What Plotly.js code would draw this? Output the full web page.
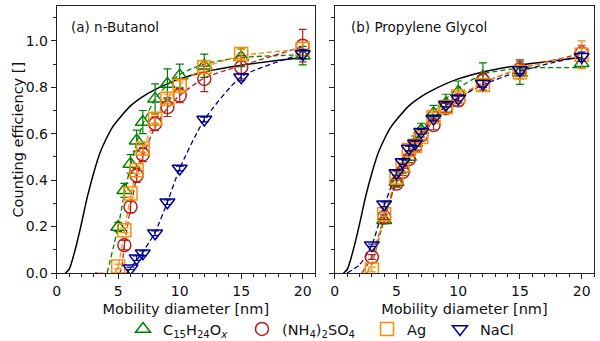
<!DOCTYPE html>
<html>
<head>
<meta charset="utf-8">
<script src="https://cdn.plot.ly/plotly-3.0.1.min.js"></script>
<style>
  html, body { margin: 0; padding: 0; background: white; }
  #chart { width: 600px; height: 341px; }
</style>
</head>
<body>
<div id="chart"></div>
<script>
// Series colours (matplotlib named colours)
const C_GREEN = "#008000";
const C_RED = "#b22222";
const C_ORANGE = "#ff8c00";
const C_BLUE = "#00008b";

// Theory curve (same in both panels)
const theoryX = [0.7, 1.0, 1.5, 2.0, 2.5, 3.0, 3.5, 4.0, 4.5, 5, 6, 7, 8, 10, 12, 15, 20];
const theoryY = [0, 0.015, 0.1, 0.21, 0.33, 0.43, 0.515, 0.575, 0.625, 0.66, 0.72, 0.76, 0.79, 0.836, 0.866, 0.895, 0.928];

// ---- (a) n-Butanol ----
const aGreenX = [5, 5.5, 6, 6.5, 7, 8, 9, 10, 12, 15, 20];
const aGreenY = [0.198, 0.356, 0.47, 0.57, 0.65, 0.75, 0.814, 0.85, 0.893, 0.929, 0.936];
const aGreenErr = [0.02, 0.03, 0.04, 0.045, 0.05, 0.065, 0.065, 0.05, 0.05, 0.04, 0.04];

const aRedX = [5.5, 6, 6.5, 7, 8, 9, 10, 12, 15, 20];
const aRedY = [0.12, 0.285, 0.42, 0.51, 0.643, 0.714, 0.764, 0.836, 0.886, 0.979];
const aRedErr = [0.02, 0.025, 0.03, 0.03, 0.03, 0.04, 0.03, 0.055, 0.05, 0.07];

const aOrangeX = [5, 5.5, 6, 6.5, 7, 8, 9, 10, 12, 15, 20];
const aOrangeY = [0.028, 0.184, 0.342, 0.443, 0.536, 0.664, 0.75, 0.807, 0.886, 0.943, 0.965];
const aOrangeErr = [0.01, 0.01, 0.015, 0.015, 0.015, 0.02, 0.02, 0.02, 0.02, 0.02, 0.03];

const aBlueX = [6, 6.5, 7, 8, 9, 10, 12, 15, 20];
const aBlueY = [0.02, 0.064, 0.085, 0.171, 0.305, 0.45, 0.661, 0.843, 0.943];
const aBlueErr = [0.005, 0.01, 0.01, 0.01, 0.01, 0.01, 0.01, 0.015, 0.02];

// fitted (dashed) curves, panel a
const aGreenFitX = [4.1, 5, 5.5, 6, 6.5, 7, 8, 9, 10, 12, 15, 20];
const aGreenFitY = [0, 0.2, 0.34, 0.46, 0.56, 0.64, 0.75, 0.81, 0.855, 0.9, 0.928, 0.94];
const aRedFitX = [3.1, 5.1, 5.5, 6, 6.5, 7, 8, 9, 10, 12, 15, 20];
const aRedFitY = [0, 0, 0.12, 0.28, 0.41, 0.5, 0.63, 0.71, 0.765, 0.84, 0.893, 0.975];
const aOrangeFitX = [3.5, 4.7, 5, 5.5, 6, 6.5, 7, 8, 9, 10, 12, 15, 20];
const aOrangeFitY = [0, 0, 0.03, 0.18, 0.33, 0.44, 0.53, 0.66, 0.75, 0.81, 0.885, 0.935, 0.965];
const aBlueFitX = [5.7, 6, 6.5, 7, 8, 9, 10, 12, 15, 20];
const aBlueFitY = [0, 0.02, 0.055, 0.09, 0.175, 0.305, 0.45, 0.66, 0.845, 0.945];

// ---- (b) Propylene Glycol ----
const bGreenX = [4, 5, 5.5, 6, 6.5, 7, 8, 9, 10, 12, 15, 20];
const bGreenY = [0.227, 0.392, 0.45, 0.5, 0.56, 0.615, 0.687, 0.73, 0.78, 0.845, 0.862, 0.903];
const bGreenErr = [0.015, 0.02, 0.02, 0.025, 0.03, 0.03, 0.035, 0.04, 0.047, 0.06, 0.05, 0.02];

const bRedX = [3, 4, 5, 5.5, 6, 6.5, 7, 8, 9, 10, 12, 15, 20];
const bRedY = [0.069, 0.241, 0.385, 0.435, 0.49, 0.545, 0.593, 0.637, 0.71, 0.744, 0.83, 0.878, 0.946];
const bRedErr = [0.01, 0.01, 0.015, 0.015, 0.015, 0.02, 0.02, 0.02, 0.02, 0.025, 0.03, 0.04, 0.035];

const bOrangeX = [3, 4, 5, 5.5, 6, 6.5, 7, 8, 9, 10, 12, 15, 20];
const bOrangeY = [0.015, 0.253, 0.411, 0.464, 0.53, 0.548, 0.586, 0.672, 0.715, 0.76, 0.81, 0.865, 0.94];
const bOrangeErr = [0.01, 0.01, 0.01, 0.01, 0.015, 0.015, 0.015, 0.02, 0.02, 0.02, 0.02, 0.03, 0.06];

const bBlueX = [3, 4, 5, 5.5, 6, 6.5, 7, 8, 9, 10, 12, 15, 20];
const bBlueY = [0.12, 0.296, 0.431, 0.478, 0.536, 0.558, 0.608, 0.665, 0.725, 0.752, 0.815, 0.874, 0.931];
const bBlueErr = [0.005, 0.01, 0.01, 0.01, 0.01, 0.01, 0.01, 0.01, 0.01, 0.01, 0.015, 0.015, 0.02];

// fitted (dashed) curves, panel b
const bGreenFitX = [2.6, 3, 4, 5, 6, 7, 8, 9, 10, 12, 15, 20];
const bGreenFitY = [0, 0.04, 0.23, 0.4, 0.52, 0.61, 0.69, 0.75, 0.795, 0.857, 0.882, 0.884];
const bRedFitX = [2.2, 3, 4, 5, 6, 7, 8, 9, 10, 12, 15, 20];
const bRedFitY = [0, 0.07, 0.24, 0.39, 0.5, 0.59, 0.655, 0.71, 0.75, 0.818, 0.88, 0.945];
const bOrangeFitX = [2.6, 3, 4, 5, 6, 7, 8, 9, 10, 12, 15, 20];
const bOrangeFitY = [0, 0.04, 0.25, 0.41, 0.52, 0.6, 0.67, 0.72, 0.76, 0.82, 0.88, 0.94];
const bBlueFitX = [1.0, 2, 3, 4, 5, 6, 7, 8, 9, 10, 12, 15, 20];
const bBlueFitY = [0, 0.035, 0.12, 0.29, 0.43, 0.53, 0.605, 0.665, 0.72, 0.755, 0.81, 0.87, 0.935];

// legend names
const NAMES = [
  "C<sub>15</sub>H<sub>24</sub>O<sub><i>x</i></sub>",
  "(NH<sub>4</sub>)<sub>2</sub>SO<sub>4</sub>",
  "Ag",
  "NaCl",
];
const SYMBOLS = ["triangle-up-open", "circle-open", "square-open", "triangle-down-open"];
const COLORS = [C_GREEN, C_RED, C_ORANGE, C_BLUE];
const LEGEND_IDS = ["legend", "legend2", "legend3", "legend4"];
// legend box x (paper), one small legend per entry so the spacing matches
const LEGEND_X = [0.205, 0.4033, 0.6117, 0.7333];

const FONT = "DejaVu Sans, sans-serif";

function fitTrace(x, y, color, xa, ya) {
  return {
    x, y, type: "scatter", mode: "lines",
    line: { color, width: 1.3, dash: "5px,3px", shape: "spline", smoothing: 0.6 },
    xaxis: xa, yaxis: ya, showlegend: false, hoverinfo: "skip",
  };
}

function theoryTrace(xa, ya) {
  return {
    x: theoryX, y: theoryY, type: "scatter", mode: "lines",
    line: { color: "black", width: 1.5, shape: "spline", smoothing: 0.8 },
    xaxis: xa, yaxis: ya, showlegend: false, hoverinfo: "skip",
  };
}

function pointTrace(x, y, err, k, xa, ya, legend) {
  return {
    x, y, type: "scatter", mode: "markers",
    name: NAMES[k],
    legend: LEGEND_IDS[k],
    marker: { symbol: SYMBOLS[k], size: 13, color: COLORS[k], line: { width: 1.5, color: COLORS[k] } },
    error_y: { type: "data", array: err, color: COLORS[k], thickness: 1.2, width: 4 },
    xaxis: xa, yaxis: ya, showlegend: legend,
  };
}

const traces = [
  theoryTrace("x", "y"),
  fitTrace(aGreenFitX, aGreenFitY, C_GREEN, "x", "y"),
  fitTrace(aRedFitX, aRedFitY, C_RED, "x", "y"),
  fitTrace(aOrangeFitX, aOrangeFitY, C_ORANGE, "x", "y"),
  fitTrace(aBlueFitX, aBlueFitY, C_BLUE, "x", "y"),
  pointTrace(aGreenX, aGreenY, aGreenErr, 0, "x", "y", true),
  pointTrace(aRedX, aRedY, aRedErr, 1, "x", "y", true),
  pointTrace(aOrangeX, aOrangeY, aOrangeErr, 2, "x", "y", true),
  pointTrace(aBlueX, aBlueY, aBlueErr, 3, "x", "y", true),

  theoryTrace("x2", "y2"),
  fitTrace(bGreenFitX, bGreenFitY, C_GREEN, "x2", "y2"),
  fitTrace(bRedFitX, bRedFitY, C_RED, "x2", "y2"),
  fitTrace(bOrangeFitX, bOrangeFitY, C_ORANGE, "x2", "y2"),
  fitTrace(bBlueFitX, bBlueFitY, C_BLUE, "x2", "y2"),
  pointTrace(bGreenX, bGreenY, bGreenErr, 0, "x2", "y2", false),
  pointTrace(bRedX, bRedY, bRedErr, 1, "x2", "y2", false),
  pointTrace(bOrangeX, bOrangeY, bOrangeErr, 2, "x2", "y2", false),
  pointTrace(bBlueX, bBlueY, bBlueErr, 3, "x2", "y2", false),
];

// common axis style, mimics matplotlib box + outward ticks
const xBase = {
  range: [0, 21], tickvals: [0, 5, 10, 15, 20],
  showline: true, mirror: true, linecolor: "#222", linewidth: 1,
  ticks: "outside", ticklen: 5, tickcolor: "#222", showgrid: false, zeroline: false,
  minor: { dtick: 1, ticks: "outside", ticklen: 2.5, tickcolor: "#222" },
  tickfont: { family: FONT, size: 14, color: "#111" },
  title: { text: "Mobility diameter [nm]", font: { family: FONT, size: 14.5, color: "#111" }, standoff: 6 },
  automargin: false,
};
const yBase = {
  range: [0, 1.15], tickvals: [0, 0.2, 0.4, 0.6, 0.8, 1.0], tickformat: ".1f",
  showline: true, mirror: true, linecolor: "#222", linewidth: 1,
  ticks: "outside", ticklen: 5, tickcolor: "#222", showgrid: false, zeroline: false,
  minor: { dtick: 0.1, ticks: "outside", ticklen: 2.5, tickcolor: "#222" },
  tickfont: { family: FONT, size: 14, color: "#111" },
  automargin: false,
};

const layout = {
  width: 600, height: 341,
  margin: { l: 0, r: 0, t: 6, b: 68, autoexpand: false },
  plot_bgcolor: "white", paper_bgcolor: "white",
  font: { family: FONT, color: "#111" },
  xaxis: { ...xBase, domain: [0.0945, 0.525], anchor: "y" },
  yaxis: { ...yBase, domain: [0, 1], anchor: "x" },
  xaxis2: { ...xBase, domain: [0.558, 0.99], anchor: "y2" },
  yaxis2: { ...yBase, domain: [0, 1], anchor: "x2", showticklabels: false },
  annotations: [
    { text: "Counting efficiency []", xref: "paper", yref: "paper", x: 17 / 600, y: 0.5,
      textangle: -90, xanchor: "center", yanchor: "middle", showarrow: false,
      font: { family: FONT, size: 14.5, color: "#111" } },
    { text: "(a) n-Butanol", xref: "paper", yref: "paper", x: 0.115, y: 0.92,
      xanchor: "left", yanchor: "middle", showarrow: false, font: { family: FONT, size: 13.5, color: "#111" } },
    { text: "(b) Propylene Glycol", xref: "paper", yref: "paper", x: 0.582, y: 0.92,
      xanchor: "left", yanchor: "middle", showarrow: false, font: { family: FONT, size: 13.5, color: "#111" } },
  ],
  showlegend: true,
};

LEGEND_IDS.forEach((id, k) => {
  layout[id] = {
    orientation: "h", x: LEGEND_X[k], xanchor: "left", y: -0.21, yanchor: "middle",
    font: { family: FONT, size: 14.5, color: "#111" }, bgcolor: "rgba(0,0,0,0)",
  };
});

Plotly.newPlot("chart", traces, layout, { staticPlot: true });
</script>
</body>
</html>
